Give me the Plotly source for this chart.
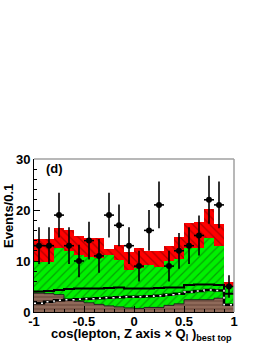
import plotly.graph_objects as go

bin_edges = [-1.0, -0.9, -0.8, -0.7, -0.6, -0.5, -0.4, -0.3, -0.2, -0.1, 0.0,
             0.1, 0.2, 0.3, 0.4, 0.5, 0.6, 0.7, 0.8, 0.9, 1.0]
total_top = [14.3, 14.3, 16.5, 16.0, 15.0, 14.5, 14.5, 12.4, 13.1, 11.8,
             12.6, 12.0, 12.0, 12.9, 14.8, 17.4, 17.7, 20.2, 17.3, 5.9]
green_top = [9.9, 9.9, 12.5, 11.9, 11.2, 10.8, 10.5, 11.1, 10.1, 8.3,
             8.6, 9.3, 8.8, 10.0, 10.3, 12.6, 12.6, 14.5, 13.0, 4.9]
brown_top = [3.7, 3.6, 3.4, 2.4, 2.1, 1.8, 1.5, 1.2, 1.0, 0.8,
             0.7, 0.9, 0.9, 1.3, 1.6, 2.4, 2.4, 2.4, 2.7, 1.4]
solid_line = [4.0, 4.1, 4.3, 4.5, 4.6, 4.6, 4.6, 4.7, 4.8, 4.6,
              4.6, 4.6, 4.7, 4.8, 4.8, 5.3, 5.4, 5.4, 5.3, 3.6]
dashed_line = [1.7, 2.0, 2.3, 2.4, 2.5, 2.6, 2.7, 2.8, 2.9, 3.0,
               3.0, 3.1, 3.2, 3.4, 3.6, 3.9, 4.1, 4.3, 4.2, 1.4]
data_counts = [13, 13, 19, 13, 10, 14, 11, 19, 17, 13,
               9, 16, 21, 9, 12, 13, 15, 22, 21, 5]
data_errors = [3.6, 3.6, 4.4, 3.6, 3.2, 3.7, 3.3, 4.4, 4.1, 3.6,
               3.0, 4.0, 4.6, 3.0, 3.5, 3.6, 3.9, 4.7, 4.6, 2.2]

centers = [(a + b) / 2 for a, b in zip(bin_edges[:-1], bin_edges[1:])]
widths = [b - a for a, b in zip(bin_edges[:-1], bin_edges[1:])]

FONT = "Liberation Sans, Arial, Helvetica, sans-serif"

fig = go.Figure()

fig.add_trace(go.Bar(
    x=centers, y=total_top, width=widths,
    marker=dict(color="#ff0000", line=dict(width=0),
                pattern=dict(shape="\\", fgcolor="#6a0000", bgcolor="#ff0000",
                             size=6, solidity=0.22)),
    showlegend=False))
fig.add_trace(go.Bar(
    x=centers, y=green_top, width=widths,
    marker=dict(color="#00ee00", line=dict(width=0),
                pattern=dict(shape="/", fgcolor="#0a5a0a", bgcolor="#00f000",
                             size=6, solidity=0.22)),
    showlegend=False))
fig.add_trace(go.Bar(
    x=centers, y=brown_top, width=widths,
    marker=dict(color="#8a6656", line=dict(width=0),
                pattern=dict(shape="-", fgcolor="#4a2a20", bgcolor="#8f6a5a",
                             size=4, solidity=0.3)),
    showlegend=False))

# brown outline
fig.add_trace(go.Scatter(
    x=bin_edges, y=brown_top + [brown_top[-1]], mode="lines",
    line=dict(color="#222222", width=1, shape="hv"), showlegend=False))

# solid black step line
fig.add_trace(go.Scatter(
    x=bin_edges, y=solid_line + [solid_line[-1]], mode="lines",
    line=dict(color="black", width=2, shape="hv"), showlegend=False))

# dashed line: black with white dots
fig.add_trace(go.Scatter(
    x=bin_edges, y=dashed_line + [dashed_line[-1]], mode="lines",
    line=dict(color="black", width=2.5, shape="hv"), showlegend=False))
fig.add_trace(go.Scatter(
    x=bin_edges, y=dashed_line + [dashed_line[-1]], mode="lines",
    line=dict(color="white", width=1.5, shape="hv", dash="2px,5px"),
    showlegend=False))

# data
fig.add_trace(go.Scatter(
    x=centers, y=data_counts, mode="markers",
    marker=dict(color="black", size=6, symbol="circle"),
    error_y=dict(type="data", array=data_errors, color="black",
                 thickness=1.6, width=0),
    error_x=dict(type="data", array=[w / 2 for w in widths], color="black",
                 thickness=1.6, width=0),
    showlegend=False))

fig.update_layout(
    width=266, height=344,
    margin=dict(l=34, r=32, t=159, b=32),
    paper_bgcolor="white", plot_bgcolor="white",
    barmode="overlay", bargap=0,
    font=dict(family=FONT, size=13, color="black"),
    xaxis=dict(range=[-1, 1], tickmode="array",
               tickvals=[-1, -0.5, 0, 0.5, 1],
               ticktext=["-1", "-0.5", "0", "0.5", "1"],
               ticks="inside", ticklen=6, tickwidth=1, tickcolor="black",
               minor=dict(ticks="inside", ticklen=3, dtick=0.1, tick0=-1,
                          tickcolor="black"),
               showline=True, linecolor="black", linewidth=1,
               showgrid=False, zeroline=False, automargin=False,
               ticklabelstandoff=-3,
               tickfont=dict(family=FONT, size=13, weight="bold")),
    yaxis=dict(range=[0, 30], tickmode="array", tickvals=[0, 10, 20, 30],
               ticks="inside", ticklen=6, tickwidth=1, tickcolor="black",
               minor=dict(ticks="inside", ticklen=3, dtick=2, tick0=0,
                          tickcolor="black"),
               showline=True, linecolor="black", linewidth=1,
               showgrid=False, zeroline=False, automargin=False,
               tickfont=dict(family=FONT, size=13, weight="bold")),
    shapes=[
        dict(type="line", xref="paper", yref="paper", x0=0, x1=1, y0=1, y1=1,
             line=dict(color="#a0a0a0", width=1.5)),
        dict(type="line", xref="paper", yref="paper", x0=1, x1=1, y0=0, y1=1,
             line=dict(color="#a0a0a0", width=1.5)),
    ],
    annotations=[
        dict(text="<b>(d)</b>", xref="paper", yref="paper", x=0.05, y=0.935,
             xanchor="left", yanchor="middle", showarrow=False,
             font=dict(family=FONT, size=13)),
        dict(text="<b>Events/0.1</b>", xref="paper", yref="paper",
             x=-0.128, y=0.63, xanchor="center", yanchor="middle",
             textangle=-90, showarrow=False, font=dict(family=FONT, size=13)),
        dict(text="<b>cos(lepton, Z axis × Q<sub>l</sub> )<sub>best top</sub></b>",
             xref="paper", yref="paper", x=1.0, y=-0.15,
             xanchor="right", yanchor="middle", showarrow=False,
             font=dict(family=FONT, size=13)),
    ],
)

fig.write_html("out.html",
               config={"displayModeBar": False, "staticPlot": True},
               post_script="document.body.style.margin='0';"
                           "document.body.style.padding='0';")
